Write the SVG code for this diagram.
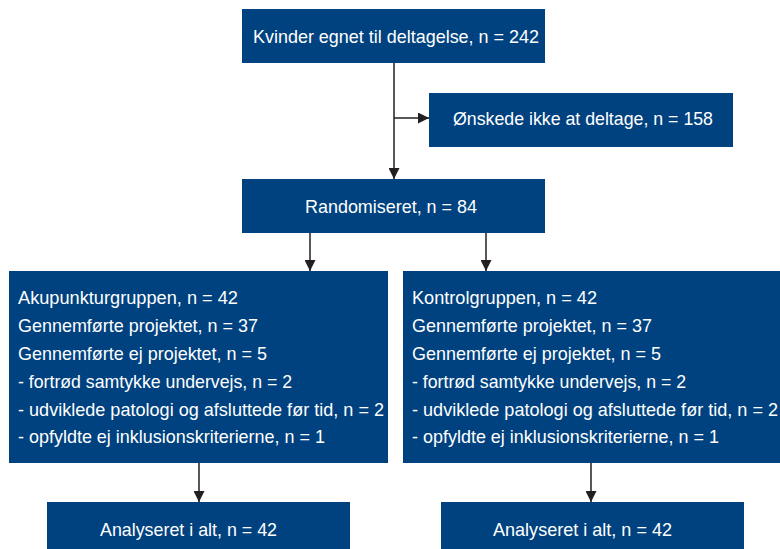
<svg xmlns="http://www.w3.org/2000/svg" width="780" height="549" viewBox="0 0 780 549">
<defs>
<style>
.box{fill:#00427f}
.t{font-family:"Liberation Sans",Arial,sans-serif;font-size:19px;fill:#ffffff}
.ln{stroke:#231f20;stroke-width:1.5;fill:none}
</style>
<marker id="ah" markerUnits="userSpaceOnUse" markerWidth="11" markerHeight="11" viewBox="0 0 10 10" refX="10" refY="5" orient="auto">
<path d="M0,0 L10,5 L0,10 Z" fill="#231f20"/>
</marker>
</defs>
<rect width="780" height="549" fill="#ffffff"/>
<g id="connectors">
<line class="ln" x1="394" y1="63" x2="394" y2="179" marker-end="url(#ah)"/>
<line class="ln" x1="394" y1="118" x2="429" y2="118" marker-end="url(#ah)"/>
<line class="ln" x1="310" y1="233" x2="310" y2="271" marker-end="url(#ah)"/>
<line class="ln" x1="486" y1="233" x2="486" y2="271" marker-end="url(#ah)"/>
<line class="ln" x1="199" y1="463" x2="199" y2="502" marker-end="url(#ah)"/>
<line class="ln" x1="591" y1="463" x2="591" y2="502" marker-end="url(#ah)"/>
</g>
<g id="n-eligible">
<rect class="box" x="242" y="9" width="303" height="54"/>
<text class="t" x="253" y="43" textLength="286" lengthAdjust="spacingAndGlyphs">Kvinder egnet til deltagelse, n = 242</text>
</g>
<g id="n-declined">
<rect class="box" x="429" y="93" width="304" height="54"/>
<text class="t" x="453" y="125" textLength="260" lengthAdjust="spacingAndGlyphs">Ønskede ikke at deltage, n = 158</text>
</g>
<g id="n-random">
<rect class="box" x="242" y="179" width="303" height="54"/>
<text class="t" x="305" y="213" textLength="172" lengthAdjust="spacingAndGlyphs">Randomiseret, n = 84</text>
</g>
<g id="n-acu">
<rect class="box" x="9" y="271" width="379" height="192"/>
<text class="t" x="18" y="304" textLength="220" lengthAdjust="spacingAndGlyphs">Akupunkturgruppen, n = 42</text>
<text class="t" x="18" y="332" textLength="240" lengthAdjust="spacingAndGlyphs">Gennemførte projektet, n = 37</text>
<text class="t" x="18" y="360" textLength="249" lengthAdjust="spacingAndGlyphs">Gennemførte ej projektet, n = 5</text>
<text class="t" x="18" y="388" textLength="274" lengthAdjust="spacingAndGlyphs">- fortrød samtykke undervejs, n = 2</text>
<text class="t" x="18" y="416" textLength="366" lengthAdjust="spacingAndGlyphs">- udviklede patologi og afsluttede før tid, n = 2</text>
<text class="t" x="18" y="443" textLength="307" lengthAdjust="spacingAndGlyphs">- opfyldte ej inklusionskriterierne, n = 1</text>
</g>
<g id="n-control">
<rect class="box" x="403" y="271" width="377" height="192"/>
<text class="t" x="412" y="304" textLength="185" lengthAdjust="spacingAndGlyphs">Kontrolgruppen, n = 42</text>
<text class="t" x="412" y="332" textLength="240" lengthAdjust="spacingAndGlyphs">Gennemførte projektet, n = 37</text>
<text class="t" x="412" y="360" textLength="249" lengthAdjust="spacingAndGlyphs">Gennemførte ej projektet, n = 5</text>
<text class="t" x="412" y="388" textLength="274" lengthAdjust="spacingAndGlyphs">- fortrød samtykke undervejs, n = 2</text>
<text class="t" x="412" y="416" textLength="366" lengthAdjust="spacingAndGlyphs">- udviklede patologi og afsluttede før tid, n = 2</text>
<text class="t" x="412" y="443" textLength="307" lengthAdjust="spacingAndGlyphs">- opfyldte ej inklusionskriterierne, n = 1</text>
</g>
<g id="n-analysed-acu">
<rect class="box" x="47" y="502" width="303" height="47"/>
<text class="t" x="100" y="536" textLength="177" lengthAdjust="spacingAndGlyphs">Analyseret i alt, n = 42</text>
</g>
<g id="n-analysed-control">
<rect class="box" x="441" y="502" width="303" height="47"/>
<text class="t" x="493" y="536" textLength="179" lengthAdjust="spacingAndGlyphs">Analyseret i alt, n = 42</text>
</g>
</svg>
